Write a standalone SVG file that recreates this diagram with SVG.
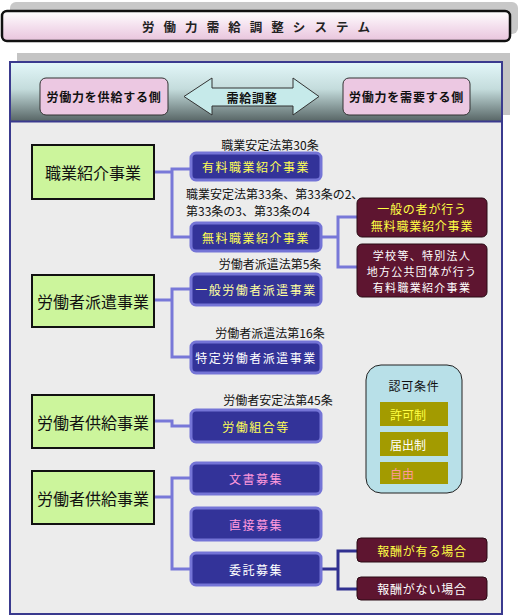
<svg xmlns="http://www.w3.org/2000/svg" width="519" height="616" viewBox="0 0 519 616">
<defs>
<linearGradient id="gTitle" x1="0" y1="0" x2="0" y2="1">
<stop offset="0" stop-color="#ffffff"/>
<stop offset="0.5" stop-color="#f4e0ee"/>
<stop offset="1" stop-color="#e8c4dc"/>
</linearGradient>
<linearGradient id="gHead" x1="0" y1="0" x2="0" y2="1">
<stop offset="0" stop-color="#e2f6f8"/>
<stop offset="0.45" stop-color="#c4dcdc"/>
<stop offset="1" stop-color="#586666"/>
</linearGradient>
<style>
text{font-family:"Noto Sans CJK JP","Noto Sans",sans-serif;text-anchor:middle;dominant-baseline:central}
.green rect{fill:#ccf59c;stroke:#111;stroke-width:2}
.green text{font-size:16px;fill:#111}
.blue rect{fill:#333399;stroke:#7474d6;stroke-width:3}
.blue text{font-size:12px;letter-spacing:1.5px}
.red rect{fill:#5e1530;stroke:#2a0a14;stroke-width:1}
.red text{font-size:12px;letter-spacing:0.8px}
.red text.sm{font-size:11px;letter-spacing:1.3px}
.lbl{font-size:12px;fill:#111}
.olive rect{fill:#a39b00}
.olive text{font-size:12px;text-anchor:start}
.conn path{fill:none;stroke:#7878d8;stroke-width:3}
.conn path.dark{stroke:#303090}
.pink rect{fill:#ecc8e2;stroke:#333;stroke-width:1}
.pink text{font-size:12px;font-weight:bold;fill:#111;letter-spacing:0.8px}
</style>
</defs>
<!-- title -->
<g id="title">
<rect x="10" y="2" width="508" height="32" rx="6" fill="#c8c8c8"/>
<rect x="2" y="11" width="508" height="30" rx="5" fill="url(#gTitle)" stroke="#111" stroke-width="2.5"/>
<text x="256" y="26.5" font-size="12.5" font-weight="bold" fill="#222" textLength="228" lengthAdjust="spacing">労 働 力 需 給 調 整 シ ス テ ム</text>
</g>
<!-- panel -->
<g id="panel">
<rect x="17" y="53" width="493" height="62" fill="#c4c4c4"/>
<rect x="10" y="62" width="492" height="552" fill="#ececec" stroke="#3a3a8e" stroke-width="2"/>
<rect x="11" y="63" width="490" height="58" fill="url(#gHead)"/>
<line x1="11" y1="121.5" x2="501" y2="121.5" stroke="#3a3a8e" stroke-width="2"/>
</g>
<g id="supply" class="pink">
<rect x="40" y="78" width="128" height="37" rx="6"/>
<text x="104" y="96.5">労働力を供給する側</text>
</g>
<g id="adjust">
<polygon points="184,96.5 212,78 212,88 293,88 293,78 319,96.5 293,115 293,106 212,106 212,115" fill="#c6eaea" stroke="#333" stroke-width="1"/>
<text x="252" y="97" font-size="12" font-weight="bold" fill="#111" letter-spacing="0.8">需給調整</text>
</g>
<g id="demand" class="pink">
<rect x="343" y="78" width="127" height="37" rx="6"/>
<text x="406.5" y="96.5">労働力を需要する側</text>
</g>
<!-- connectors -->
<g id="connectors" class="conn">
<path d="M154,172 H172 M191,169 H172 V237 H191"/>
<path d="M321,237 H338 M357,217 H338 V267 H357"/>
<path d="M154,300 H172 M191,289 H172 V357 H191"/>
<path d="M154,421 H172 V426 H191"/>
<path d="M154,497 H172 M191,478 H172 V569 H191"/>
<path class="dark" d="M321,569 H338 M357,551 H338 V589 H357"/>
</g>
<!-- labels -->
<g id="labels">
<text class="lbl" x="270" y="144">職業安定法第30条</text>
<text class="lbl" x="186" y="193" style="text-anchor:start">職業安定法第33条、第33条の2、</text>
<text class="lbl" x="186" y="210" style="text-anchor:start">第33条の3、第33条の4</text>
<text class="lbl" x="270" y="263">労働者派遣法第5条</text>
<text class="lbl" x="270" y="332">労働者派遣法第16条</text>
<text class="lbl" x="278" y="399">労働者安定法第45条</text>
</g>
<!-- green nodes -->
<g id="g1" class="green"><rect x="32" y="145" width="122" height="54"/><text x="93" y="172">職業紹介事業</text></g>
<g id="g2" class="green"><rect x="32" y="275" width="122" height="52"/><text x="93" y="301">労働者派遣事業</text></g>
<g id="g3" class="green"><rect x="32" y="395" width="122" height="53"/><text x="93" y="421.5">労働者供給事業</text></g>
<g id="g4" class="green"><rect x="32" y="471" width="122" height="53"/><text x="93" y="497.5">労働者供給事業</text></g>
<!-- blue nodes -->
<g id="b1" class="blue"><rect x="191" y="153" width="130" height="27" rx="5"/><text x="256" y="166.5" fill="#ffff55">有料職業紹介事業</text></g>
<g id="b2" class="blue"><rect x="191" y="223" width="130" height="28" rx="5"/><text x="256" y="237" fill="#ffff55">無料職業紹介事業</text></g>
<g id="b3" class="blue"><rect x="191" y="274" width="130" height="31" rx="5"/><text x="256" y="289.5" fill="#ffffa0">一般労働者派遣事業</text></g>
<g id="b4" class="blue"><rect x="191" y="342" width="130" height="31" rx="5"/><text x="256" y="357.5" fill="#ffffff">特定労働者派遣事業</text></g>
<g id="b5" class="blue"><rect x="191" y="410" width="130" height="32" rx="5"/><text x="256" y="426" fill="#ffff55">労働組合等</text></g>
<g id="b6" class="blue"><rect x="191" y="463" width="130" height="31" rx="5"/><text x="256" y="478.5" fill="#ff99dd">文書募集</text></g>
<g id="b7" class="blue"><rect x="191" y="508" width="130" height="32" rx="5"/><text x="256" y="524" fill="#ff99dd">直接募集</text></g>
<g id="b8" class="blue"><rect x="191" y="553" width="130" height="32" rx="5"/><text x="256" y="569" fill="#ffffff">委託募集</text></g>
<!-- dark red nodes -->
<g id="r1" class="red"><rect x="357" y="198" width="130" height="39" rx="5"/><text x="422" y="208.5" fill="#ffff44">一般の者が行う</text><text x="422" y="225.5" fill="#ffff44">無料職業紹介事業</text></g>
<g id="r2" class="red"><rect x="357" y="244" width="130" height="53" rx="5"/><text class="sm" x="422" y="254.5" fill="#ffffff">学校等、特別法人</text><text class="sm" x="422" y="270.5" fill="#ffffff">地方公共団体が行う</text><text class="sm" x="422" y="286.5" fill="#ffffff">有料職業紹介事業</text></g>
<g id="r3" class="red"><rect x="357" y="538" width="130" height="24" rx="4"/><text x="422" y="550" fill="#ffff44">報酬が有る場合</text></g>
<g id="r4" class="red"><rect x="357" y="577" width="130" height="23" rx="4"/><text x="422" y="588.5" fill="#ffffff">報酬がない場合</text></g>
<!-- permit conditions -->
<g id="permit">
<rect x="366" y="365" width="96" height="128" rx="15" fill="#b8e0e8" stroke="#222" stroke-width="1"/>
<text x="414" y="385" font-size="12" fill="#111" letter-spacing="0.8">認可条件</text>
</g>
<g id="p1" class="olive"><rect x="380" y="402" width="68" height="24"/><text x="390" y="414" fill="#ffff44">許可制</text></g>
<g id="p2" class="olive"><rect x="380" y="432" width="68" height="24"/><text x="390" y="444" fill="#ffffff">届出制</text></g>
<g id="p3" class="olive"><rect x="380" y="462" width="68" height="22"/><text x="390" y="473" fill="#ff9999">自由</text></g>
</svg>
